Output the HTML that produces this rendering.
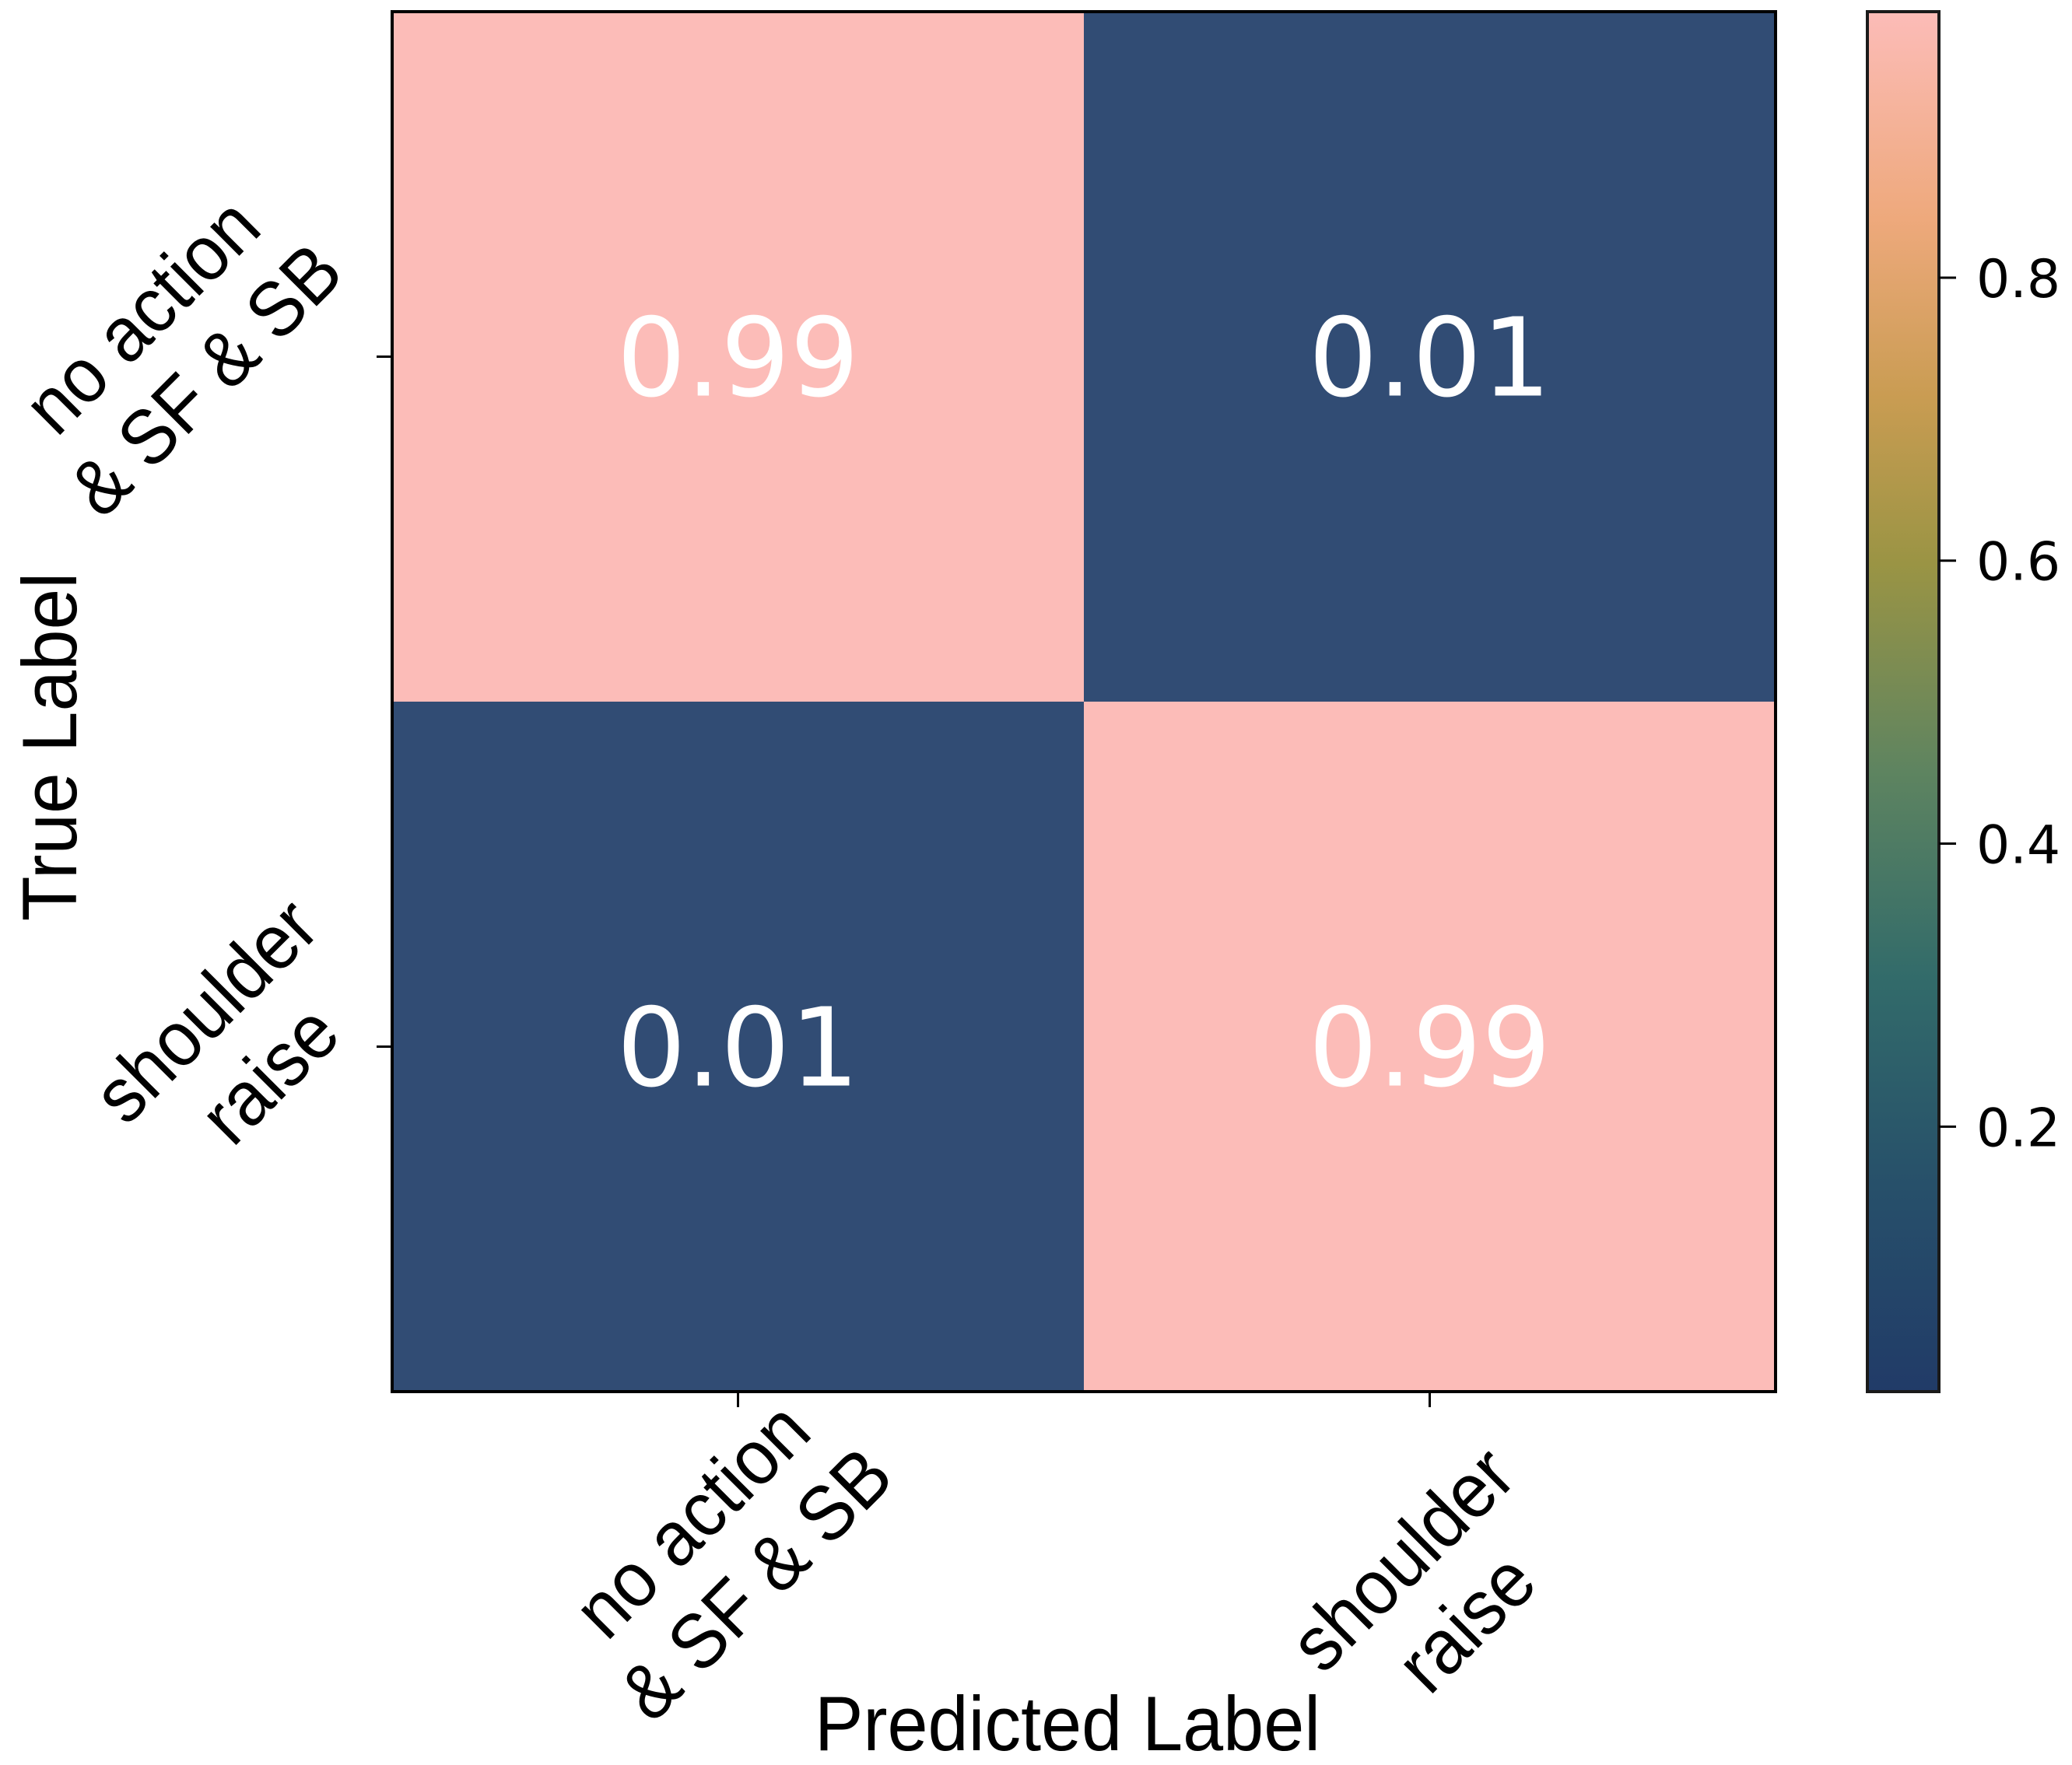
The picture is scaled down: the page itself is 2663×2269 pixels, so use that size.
<!DOCTYPE html>
<html><head><meta charset="utf-8"><style>
html,body{margin:0;padding:0;background:#fff;}
svg{display:block;}
</style></head><body>
<svg id="chart" width="2663" height="2269" viewBox="0 0 2663 2269" xmlns="http://www.w3.org/2000/svg">
<defs>
<linearGradient id="cmap" x1="0" y1="1" x2="0" y2="0">
<stop offset="0" stop-color="#213b68"/>
<stop offset="0.15" stop-color="#27506a"/>
<stop offset="0.3" stop-color="#326b6a"/>
<stop offset="0.45" stop-color="#5e8460"/>
<stop offset="0.6" stop-color="#9a9444"/>
<stop offset="0.72" stop-color="#c99c52"/>
<stop offset="0.85" stop-color="#eea97c"/>
<stop offset="1" stop-color="#fcbcb8"/>
</linearGradient>
</defs>
<g id="cells"></g>
<g id="axes"></g>
</svg>
<script>
const rowLabels = [["no action","& SF & SB"],["shoulder","raise"]];
const colLabels = [["no action","& SF & SB"],["shoulder","raise"]];
const matrixRow0 = [0.99, 0.01];
const matrixRow1 = [0.01, 0.99];
const cbTicks = [0.2, 0.4, 0.6, 0.8];
const cbTickLabels = ["0.2","0.4","0.6","0.8"];
const vmin = 0.0127, vmax = 0.988;

const NS = "http://www.w3.org/2000/svg";
const L = 504, R = 2282, T = 15, B = 1789;
const n = 2;
const cw = (R - L) / n, ch = (B - T) / n;
const xPos = i => L + cw * (i + 0.5);
const yPos = i => T + ch * (i + 0.5);
const CB_L = 2400, CB_R = 2492, CB_T = 15, CB_B = 1789;
const cbY = v => CB_B - (v - vmin) / (vmax - vmin) * (CB_B - CB_T);
function color(v){ return v > 0.5 ? "#fcbcb8" : "#314c74"; }
function mk(tag, attrs, parent){ const e=document.createElementNS(NS,tag); for(const k in attrs) e.setAttribute(k,attrs[k]); parent.appendChild(e); return e; }
const cells = document.getElementById('cells');
const axes = document.getElementById('axes');
const matrix = [matrixRow0, matrixRow1];
matrix.forEach((row, r) => row.forEach((v, c) => {
  const rect = mk('rect', {x: L + cw*c, y: T + ch*r, width: cw, height: ch, fill: color(v)}, cells);
  
  
  const t = mk('text', {x: xPos(c), y: yPos(r) + 50, 'text-anchor':'middle', 'font-family':'DejaVu Sans, sans-serif', 'font-size':140, fill:'#fff'}, cells);
  t.textContent = v.toFixed(2);
  
  
}));
const frame = mk('rect', {x:L, y:T, width:R-L, height:B-T, fill:'none', stroke:'#000', 'stroke-width':4}, axes);


function tickLabel(lab, cx, cy, name){
  const t = mk('text', {transform:`translate(${cx},${cy}) rotate(-45) scale(0.93,1)`, 'text-anchor':'middle', 'font-family':'Liberation Sans, sans-serif', 'font-size':100, fill:'#000'}, axes);
  
  
  lab.forEach((s, j) => { const ts = mk('tspan', {x:0, y: j === 0 ? -45 : 71}, t); ts.textContent = s; });
}
rowLabels.forEach((lab, i) => {
  const y = yPos(i);
  const tk = mk('line', {x1:L-20, x2:L, y1:y, y2:y, stroke:'#000', 'stroke-width':3}, axes);
  
  
  tickLabel(lab, i === 0 ? 238 : 320, i === 0 ? 462 : 1355, 'y-tick-label');
});
colLabels.forEach((lab, i) => {
  const x = xPos(i);
  const tk = mk('line', {x1:x, x2:x, y1:B, y2:B+20, stroke:'#000', 'stroke-width':3}, axes);
  
  
  tickLabel(lab, i === 0 ? 945 : 1858, i === 0 ? 2010 : 2060, 'x-tick-label');
});
const yt = mk('text', {transform:'translate(98,960) rotate(-90) scale(0.955,1)', 'text-anchor':'middle', 'font-family':'Liberation Sans, sans-serif', 'font-size':99, fill:'#000'}, axes);
yt.textContent = 'True Label';


const xt = mk('text', {transform:'translate(1372,2250) scale(0.945,1)', 'text-anchor':'middle', 'font-family':'Liberation Sans, sans-serif', 'font-size':99, fill:'#000'}, axes);
xt.textContent = 'Predicted Label';


const cb = mk('rect', {x:CB_L, y:CB_T, width:CB_R-CB_L, height:CB_B-CB_T, fill:'url(#cmap)', stroke:'#1a1a1a', 'stroke-width':4}, axes);


cbTicks.forEach((v, i) => {
  const y = cbY(v);
  const tk = mk('line', {x1:CB_R, x2:CB_R+22, y1:y, y2:y, stroke:'#000', 'stroke-width':3}, axes);
  
  
  const t = mk('text', {x:2540, y:y+25, 'font-family':'DejaVu Sans, sans-serif', 'font-size':68, fill:'#000'}, axes);
  t.textContent = cbTickLabels[i];
  
  
});
</script>
</body></html>
